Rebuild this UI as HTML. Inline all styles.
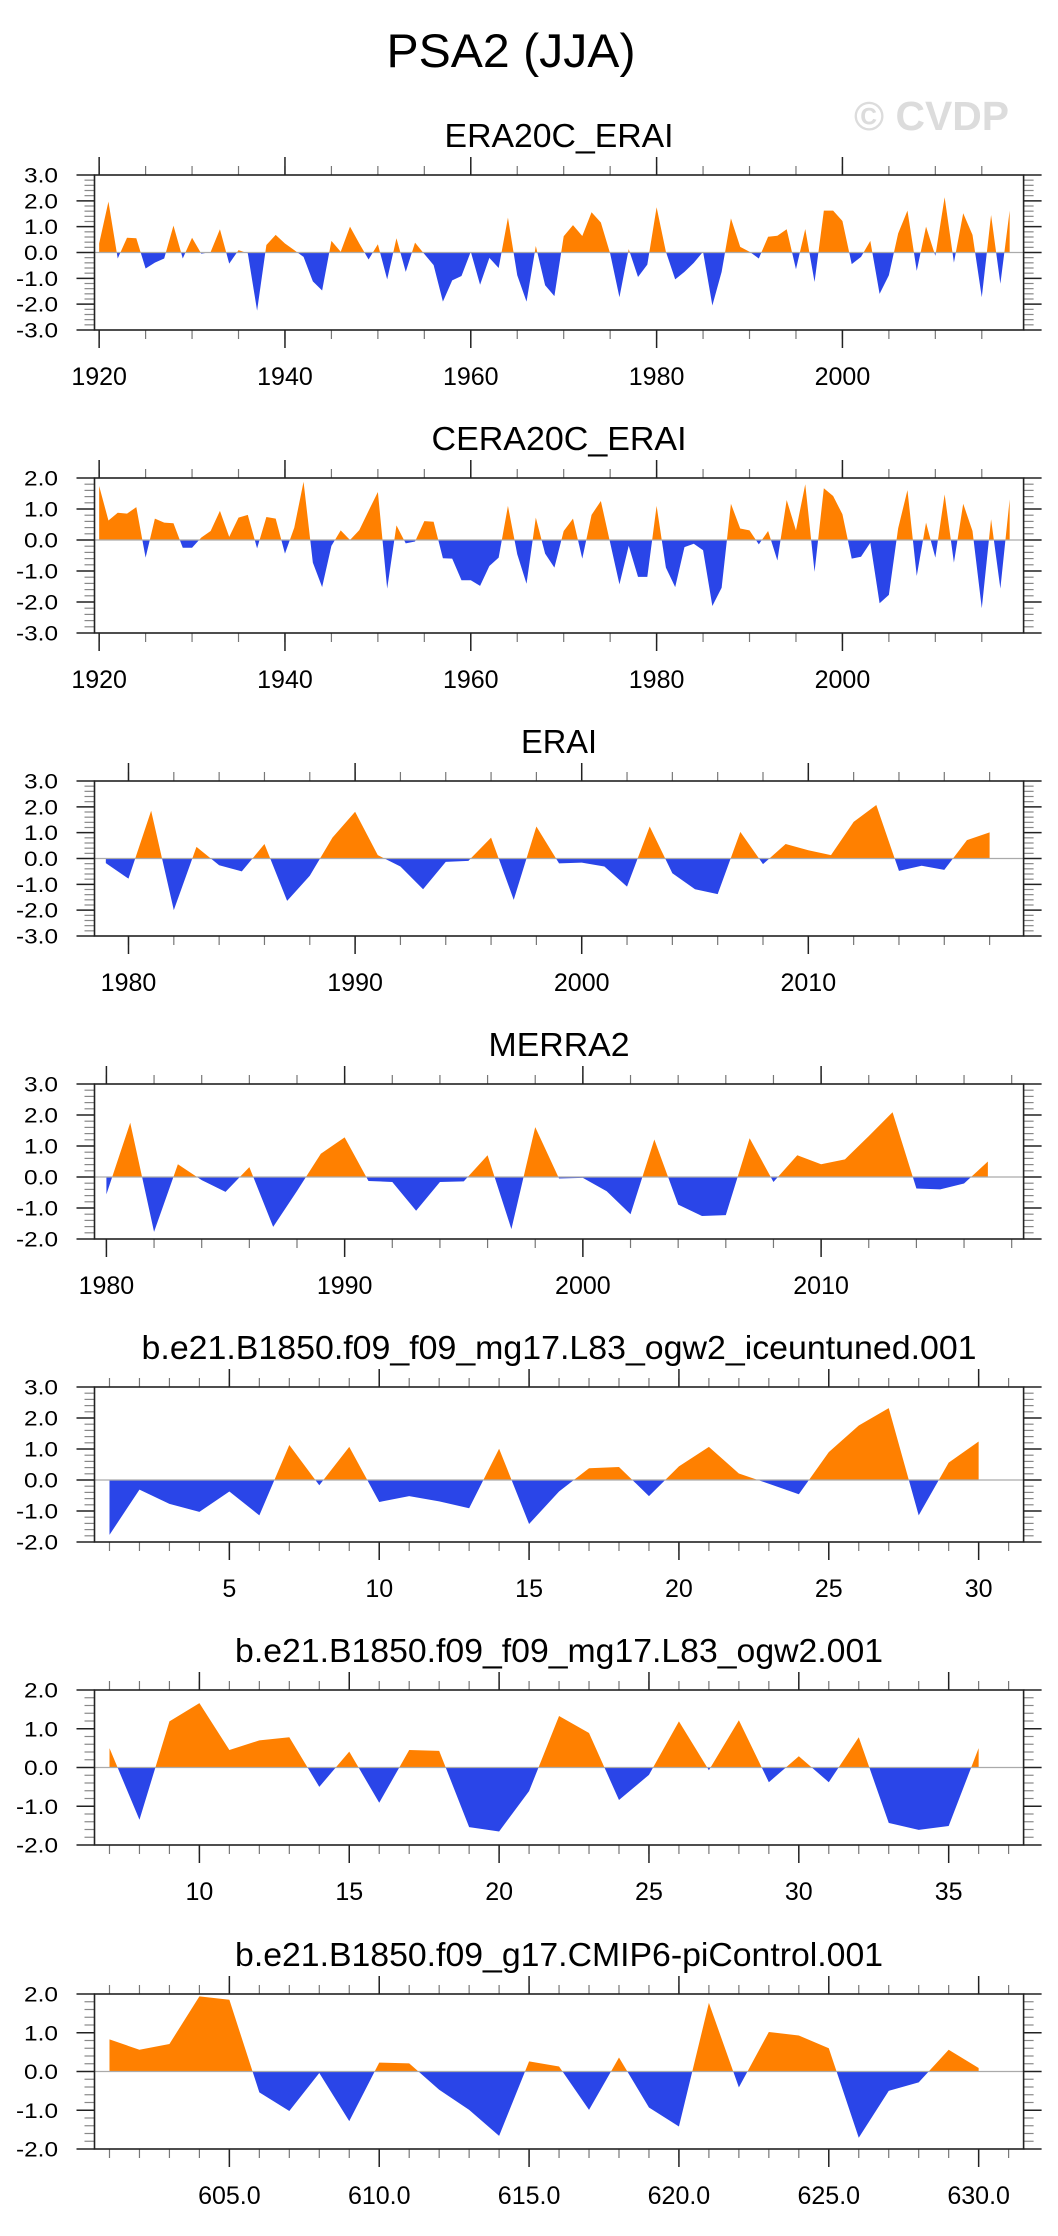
<!DOCTYPE html>
<html>
<head>
<meta charset="utf-8">
<style>
  html, body { margin: 0; padding: 0; background: #fff; }
  svg { display: block; }
  text { font-family: "Liberation Sans", Arial, sans-serif; fill: #000; }
</style>
</head>
<body>
<svg id="page" width="1058" height="2236" viewBox="0 0 1058 2236" xmlns="http://www.w3.org/2000/svg">
  <rect x="0" y="0" width="1058" height="2236" fill="#fff"/>
  <text x="511" y="67" font-size="47" text-anchor="middle" textLength="249" lengthAdjust="spacingAndGlyphs">PSA2 (JJA)</text>
  <text x="854" y="130" font-size="41" font-weight="bold" style="fill:#dcdcdc" textLength="155" lengthAdjust="spacingAndGlyphs">© CVDP</text>
</svg>
<script>
// ---- data ----
const era20cStart = 1920;
const era20cValues = [0.35,1.97,-0.23,0.57,0.55,-0.62,-0.39,-0.23,1.04,-0.23,0.57,-0.05,0.02,0.9,-0.43,0.09,-0.03,-2.25,0.29,0.68,
 0.35,0.09,-0.17,-1.12,-1.47,0.45,0.03,1.0,0.35,-0.27,0.32,-1.04,0.55,-0.75,0.38,-0.06,-0.49,-1.9,-1.08,-0.91,
 0.03,-1.25,-0.21,-0.6,1.35,-0.88,-1.9,0.25,-1.27,-1.69,0.63,1.06,0.64,1.56,1.16,-0.04,-1.73,0.13,-0.95,-0.47,
 1.75,0.03,-1.04,-0.75,-0.4,0.03,-2.05,-0.75,1.32,0.22,0.03,-0.23,0.61,0.65,0.9,-0.65,0.91,-1.14,1.62,1.62,
 1.22,-0.45,-0.17,0.45,-1.6,-0.88,0.74,1.62,-0.71,1.0,-0.13,2.14,-0.39,1.52,0.68,-1.73,1.45,-1.21,1.62];
const era20cXTicks = [1920,1940,1960,1980,2000];

const cera20cStart = 1920;
const cera20cValues = [1.74,0.63,0.88,0.85,1.06,-0.57,0.69,0.56,0.54,-0.25,-0.25,0.08,0.29,0.94,0.1,0.72,0.81,-0.27,0.74,0.69,
 -0.44,0.4,1.88,-0.73,-1.52,-0.19,0.31,0.0,0.32,0.94,1.55,-1.57,0.47,-0.11,-0.05,0.61,0.59,-0.59,-0.6,-1.3,
 -1.3,-1.48,-0.84,-0.57,1.1,-0.46,-1.41,0.72,-0.44,-0.89,0.29,0.69,-0.6,0.81,1.26,-0.09,-1.43,-0.19,-1.19,-1.19,
 1.1,-0.89,-1.52,-0.23,-0.12,-0.33,-2.13,-1.54,1.17,0.37,0.31,-0.14,0.29,-0.66,1.29,0.31,1.8,-1.03,1.67,1.42,
 0.83,-0.6,-0.54,-0.09,-2.04,-1.77,0.38,1.61,-1.16,0.56,-0.57,1.47,-0.73,1.17,0.29,-2.2,0.67,-1.57,1.31];
const cera20cXTicks = [1920,1940,1960,1980,2000];

const eraiStart = 1979;
const eraiValues = [-0.18,-0.78,1.85,-2.0,0.45,-0.26,-0.5,0.56,-1.64,-0.67,0.81,1.81,0.13,-0.31,-1.19,-0.13,-0.09,0.81,-1.6,1.24,
 -0.19,-0.16,-0.31,-1.09,1.24,-0.57,-1.19,-1.38,1.03,-0.22,0.56,0.32,0.13,1.42,2.07,-0.48,-0.28,-0.44,0.71,1.01];
const eraiXTicks = [1980,1990,2000,2010];

const merra2Start = 1980;
const merra2Values = [-0.56,1.75,-1.77,0.41,-0.1,-0.48,0.32,-1.61,-0.45,0.75,1.28,-0.13,-0.16,-1.09,-0.16,-0.14,0.7,-1.68,1.61,-0.05,
 -0.03,-0.46,-1.2,1.21,-0.89,-1.26,-1.23,1.25,-0.16,0.7,0.41,0.57,1.32,2.09,-0.37,-0.4,-0.21,0.5];
const merra2XTicks = [1980,1990,2000,2010];

const iceuntunedStart = 1;
const iceuntunedValues = [-1.77,-0.31,-0.77,-1.03,-0.37,-1.14,1.13,-0.17,1.07,-0.71,-0.52,-0.69,-0.91,1.01,-1.42,-0.37,0.38,0.42,-0.52,0.44,
 1.07,0.21,-0.12,-0.46,0.9,1.76,2.32,-1.14,0.56,1.24];
const iceuntunedXTicks = [5,10,15,20,25,30];

const ogw2Start = 7;
const ogw2Values = [0.5,-1.35,1.19,1.66,0.45,0.7,0.78,-0.5,0.41,-0.91,0.45,0.43,-1.54,-1.65,-0.61,1.33,0.89,-0.84,-0.19,1.19,
 -0.07,1.22,-0.38,0.29,-0.38,0.78,-1.43,-1.61,-1.51,0.5];
const ogw2XTicks = [10,15,20,25,30,35];

const picontrolStart = 601;
const picontrolValues = [0.83,0.56,0.71,1.94,1.85,-0.54,-1.02,-0.04,-1.28,0.23,0.21,-0.47,-0.99,-1.66,0.26,0.13,-0.99,0.36,-0.93,-1.42,
 1.77,-0.41,1.02,0.93,0.6,-1.71,-0.5,-0.28,0.56,0.09];
const picontrolXTicks = [605,610,615,620,625,630];

// ---- drawing ----
const NS = "http://www.w3.org/2000/svg";
const svg = document.getElementById("page");
const L = 94.5, R = 1023.6, H = 155;
const ORANGE = "#ff8000", BLUE = "#2a45e8";

function mk(tag, attrs, parent) {
  const e = document.createElementNS(NS, tag);
  for (const k in attrs) e.setAttribute(k, attrs[k]);
  (parent || svg).appendChild(e);
  return e;
}

function drawPanel(id, title, titleLen, top, yMin, yMax, xMin, xMax, start, values, xTicks, minorStart, minorStep, labelDecimals) {
  const bottom = top + H;
  const xs = v => L + (v - xMin) / (xMax - xMin) * (R - L);
  const ys = v => top + (yMax - v) / (yMax - yMin) * H;
  const zero = ys(0);

  const g = mk("g", {});
  
  

  const t = mk("text", {x: (L + R) / 2, y: top - 28, "font-size": 33, "text-anchor": "middle", textLength: titleLen, lengthAdjust: "spacingAndGlyphs"}, g);
  t.textContent = title;
  
  

  const cpA = mk("clipPath", {id: id + "-above"}, g);
  mk("rect", {x: L, y: top, width: R - L, height: zero - top}, cpA);
  const cpB = mk("clipPath", {id: id + "-below"}, g);
  mk("rect", {x: L, y: zero, width: R - L, height: bottom - zero}, cpB);

  let pts = xs(start).toFixed(2) + "," + zero.toFixed(2) + " ";
  values.forEach((v, i) => { pts += xs(start + i).toFixed(2) + "," + ys(v).toFixed(2) + " "; });
  pts += xs(start + values.length - 1).toFixed(2) + "," + zero.toFixed(2);

  const pos = mk("polygon", {points: pts, fill: ORANGE, "clip-path": "url(#" + id + "-above)"}, g);
  
  
  const neg = mk("polygon", {points: pts, fill: BLUE, "clip-path": "url(#" + id + "-below)"}, g);
  
  

  const zl = mk("line", {x1: L, x2: R, y1: zero, y2: zero, stroke: "#aaaaaa", "stroke-width": 1.2}, g);
  
  

  // y ticks
  for (let k = Math.round(yMin * 5); k <= Math.round(yMax * 5); k++) {
    const v = k / 5, y = ys(v);
    if (k % 5 === 0) {
      mk("line", {x1: L - 18, x2: L, y1: y, y2: y, stroke: "#222", "stroke-width": 1.5}, g);
      mk("line", {x1: R, x2: R + 18, y1: y, y2: y, stroke: "#222", "stroke-width": 1.5}, g);
      const s = v.toFixed(1);
      const yl = mk("text", {x: 58, y: y + 7.5, "font-size": 21, "text-anchor": "end", textLength: s.length === 3 ? 34 : 42, lengthAdjust: "spacingAndGlyphs"}, g);
      yl.textContent = s;
      
      
    } else {
      mk("line", {x1: L - 10, x2: L, y1: y, y2: y, stroke: "#888", "stroke-width": 1.2}, g);
      mk("line", {x1: R, x2: R + 10, y1: y, y2: y, stroke: "#888", "stroke-width": 1.2}, g);
    }
  }
  // x minor ticks
  for (let v = minorStart; v <= xMax; v += minorStep) {
    const x = xs(v);
    mk("line", {x1: x, x2: x, y1: top - 9, y2: top, stroke: "#777", "stroke-width": 1.2}, g);
    mk("line", {x1: x, x2: x, y1: bottom, y2: bottom + 9, stroke: "#777", "stroke-width": 1.2}, g);
  }
  // x major ticks + labels
  xTicks.forEach(v => {
    const x = xs(v);
    mk("line", {x1: x, x2: x, y1: top - 18, y2: top, stroke: "#222", "stroke-width": 1.5}, g);
    mk("line", {x1: x, x2: x, y1: bottom, y2: bottom + 18, stroke: "#222", "stroke-width": 1.5}, g);
    const xl = mk("text", {x: x, y: bottom + 55, "font-size": 25, "text-anchor": "middle"}, g);
    xl.textContent = labelDecimals ? v.toFixed(1) : String(v);
    
    
  });

  const box = mk("rect", {x: L, y: top, width: R - L, height: H, fill: "none", stroke: "#222", "stroke-width": 1.6}, g);
  
  
}

drawPanel("era20c", "ERA20C_ERAI", 229, 175, -3, 3, 1919.5, 2019.5, era20cStart, era20cValues, era20cXTicks, 1920, 5, false);
drawPanel("cera20c", "CERA20C_ERAI", 255, 478, -3, 2, 1919.5, 2019.5, cera20cStart, cera20cValues, cera20cXTicks, 1920, 5, false);
drawPanel("erai", "ERAI", 76, 781, -3, 3, 1978.5, 2019.5, eraiStart, eraiValues, eraiXTicks, 1980, 2, false);
drawPanel("merra2", "MERRA2", 141, 1084, -2, 3, 1979.5, 2018.5, merra2Start, merra2Values, merra2XTicks, 1980, 2, false);
drawPanel("iceuntuned", "b.e21.B1850.f09_f09_mg17.L83_ogw2_iceuntuned.001", 835, 1387, -2, 3, 0.5, 31.5, iceuntunedStart, iceuntunedValues, iceuntunedXTicks, 1, 1, false);
drawPanel("ogw2", "b.e21.B1850.f09_f09_mg17.L83_ogw2.001", 648, 1690, -2, 2, 6.5, 37.5, ogw2Start, ogw2Values, ogw2XTicks, 7, 1, false);
drawPanel("picontrol", "b.e21.B1850.f09_g17.CMIP6-piControl.001", 648, 1994, -2, 2, 600.5, 631.5, picontrolStart, picontrolValues, picontrolXTicks, 601, 1, true);
</script>
</body>
</html>
